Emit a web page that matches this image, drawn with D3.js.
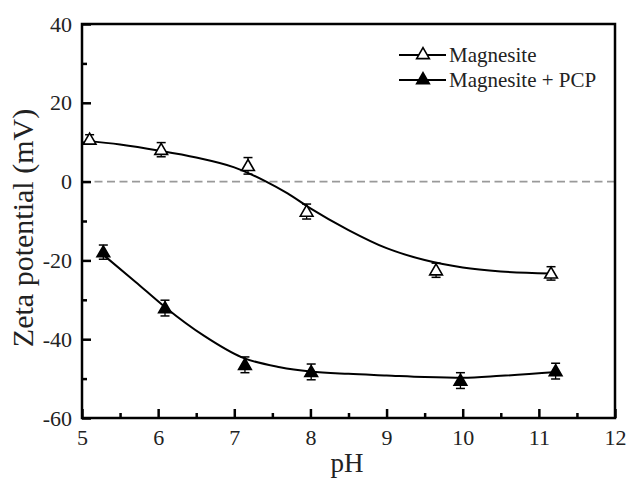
<!DOCTYPE html>
<html><head><meta charset="utf-8">
<script src="https://cdn.jsdelivr.net/npm/d3@7"></script>
<style>html,body{margin:0;padding:0;background:#fff}svg{display:block}
text{font-family:"Liberation Serif","Times New Roman",serif}</style>
</head><body>
<script>
// ---- data ----
const magPH   = [5.10, 6.04, 7.18, 7.95, 9.65, 11.16];
const magZeta = [10.7, 8.1, 4.0, -7.6, -22.5, -23.3];
const magErr  = [1.2, 1.8, 2.1, 1.9, 1.8, 1.7];

const pcpPH   = [5.28, 6.09, 7.14, 8.01, 9.97, 11.22];
const pcpZeta = [-17.9, -32.1, -46.5, -48.3, -50.5, -48.1];
const pcpErr  = [1.8, 2.0, 2.0, 2.0, 2.0, 2.0];

// fitted curves
const magFitPH   = [5.05, 5.5, 6.0, 6.5, 7.0, 7.4, 7.7, 8.0, 8.5, 9.0, 9.5, 10.0, 10.5, 11.15];
const magFitZeta = [10.4, 9.4, 7.9, 6.1, 3.6, 0.2, -3.0, -6.8, -12.3, -16.9, -19.9, -21.8, -22.8, -23.3];
const pcpFitPH   = [5.28, 5.7, 6.1, 6.6, 7.1, 7.6, 8.0, 8.5, 9.0, 9.5, 10.0, 10.5, 11.23];
const pcpFitZeta = [-18.6, -25.4, -32.0, -39.1, -44.6, -47.1, -48.2, -48.8, -49.2, -49.6, -49.8, -49.3, -48.3];

const xTicks = [5, 6, 7, 8, 9, 10, 11, 12];
const yTicks = [-60, -40, -20, 0, 20, 40];
const seriesNames = ["Magnesite", "Magnesite + PCP"];

// ---- chart ----
const W = 627, H = 481;
const m = {left: 82, right: 12, top: 24, bottom: 63};
const svg = d3.select("body").append("svg").attr("width", W).attr("height", H);
const x = d3.scaleLinear().domain([5, 12]).range([m.left, W - m.right]);
const y = d3.scaleLinear().domain([-60, 40]).range([H - m.bottom, m.top]);
const font = "'Liberation Serif','Times New Roman',serif";
const ink = "#222";

// zero line
svg.append("line").attr("x1", x(5)).attr("x2", x(12)).attr("y1", y(0)).attr("y2", y(0))
  .attr("stroke", "#999").attr("stroke-width", 1.8).attr("stroke-dasharray", "8,4.5");

// axes
const fmt = d => String(d);
const xAxis = d3.axisBottom(x).tickValues(xTicks).tickSizeInner(-9).tickSizeOuter(0).tickPadding(11).tickFormat(fmt);
const xMinor = d3.axisBottom(x).tickValues(d3.range(5.5, 12, 1)).tickSizeInner(-5).tickSizeOuter(0).tickFormat("");
const yAxis = d3.axisLeft(y).tickValues(yTicks).tickSizeInner(-9).tickSizeOuter(0).tickPadding(10).tickFormat(fmt);
const yMinor = d3.axisLeft(y).tickValues(d3.range(-50, 40, 20)).tickSizeInner(-5).tickSizeOuter(0).tickFormat("");

function styleAxis(g) {
  g.attr("font-family", font);
  g.select(".domain").remove();
  g.selectAll(".tick line").attr("stroke", "#000").attr("stroke-width", 2.5);
  g.selectAll("text").style("font-family", font).attr("font-size", 22).attr("fill", ink);
}
svg.append("g").attr("transform", `translate(0,${y(-60)})`).call(xAxis).call(styleAxis);
svg.append("g").attr("transform", `translate(0,${y(-60)})`).call(xMinor).call(styleAxis);
svg.append("g").attr("transform", `translate(${x(5)},0)`).call(yAxis).call(styleAxis);
svg.append("g").attr("transform", `translate(${x(5)},0)`).call(yMinor).call(styleAxis);

// frame
svg.append("rect").attr("x", x(5)).attr("y", y(40)).attr("width", x(12) - x(5)).attr("height", y(-60) - y(40))
  .attr("fill", "none").attr("stroke", "#000").attr("stroke-width", 2.5);

// axis titles
svg.append("text").attr("x", x(8.48)).attr("y", 472).attr("text-anchor", "middle")
  .style("font-family", font).attr("font-size", 27).attr("fill", ink).text("pH");
svg.append("text").attr("transform", `translate(33,228) rotate(-90)`).attr("text-anchor", "middle")
  .style("font-family", font).attr("font-size", 30).attr("fill", ink).text("Zeta potential (mV)");

// curves
const line = d3.line().x(d => x(d[0])).y(d => y(d[1])).curve(d3.curveMonotoneX);
svg.append("path").datum(d3.zip(magFitPH, magFitZeta)).attr("d", line)
  .attr("fill", "none").attr("stroke", "#000").attr("stroke-width", 2);
svg.append("path").datum(d3.zip(pcpFitPH, pcpFitZeta)).attr("d", line)
  .attr("fill", "none").attr("stroke", "#000").attr("stroke-width", 2);

const tri = d3.symbol().type(d3.symbolTriangle).size(70);

function drawSeries(px, py, pe, filled) {
  const g = svg.append("g");
  const pts = px.map((v, i) => ({x: v, y: py[i], e: pe[i]}));
  const eb = g.selectAll(".eb").data(pts).enter().append("g");
  eb.append("line").attr("x1", d => x(d.x)).attr("x2", d => x(d.x))
    .attr("y1", d => y(d.y - d.e)).attr("y2", d => y(d.y + d.e)).attr("stroke", "#000").attr("stroke-width", 1.3);
  [1, -1].forEach(s => {
    eb.append("line").attr("x1", d => x(d.x) - 4.5).attr("x2", d => x(d.x) + 4.5)
      .attr("y1", d => y(d.y + s * d.e)).attr("y2", d => y(d.y + s * d.e)).attr("stroke", "#000").attr("stroke-width", 1.5);
  });
  g.selectAll(".pt").data(pts).enter().append("path")
    .attr("transform", d => `translate(${x(d.x)},${y(d.y) + 1})`).attr("d", tri)
    .attr("fill", filled ? "#000" : "#fff").attr("stroke", "#000").attr("stroke-width", 1.6);
}
drawSeries(magPH, magZeta, magErr, false);
drawSeries(pcpPH, pcpZeta, pcpErr, true);

// legend
const leg = svg.append("g");
seriesNames.forEach((name, i) => {
  const ly = 55 + i * 25;
  leg.append("line").attr("x1", 399).attr("x2", 446).attr("y1", ly).attr("y2", ly).attr("stroke", "#000").attr("stroke-width", 2);
  leg.append("path").attr("transform", `translate(423,${ly})`).attr("d", tri)
    .attr("fill", i ? "#000" : "#fff").attr("stroke", "#000").attr("stroke-width", 1.6);
  leg.append("text").attr("x", 449).attr("y", ly + 7).style("font-family", font).attr("font-size", 21)
    .attr("fill", ink).text(name);
});
</script>
</body></html>
